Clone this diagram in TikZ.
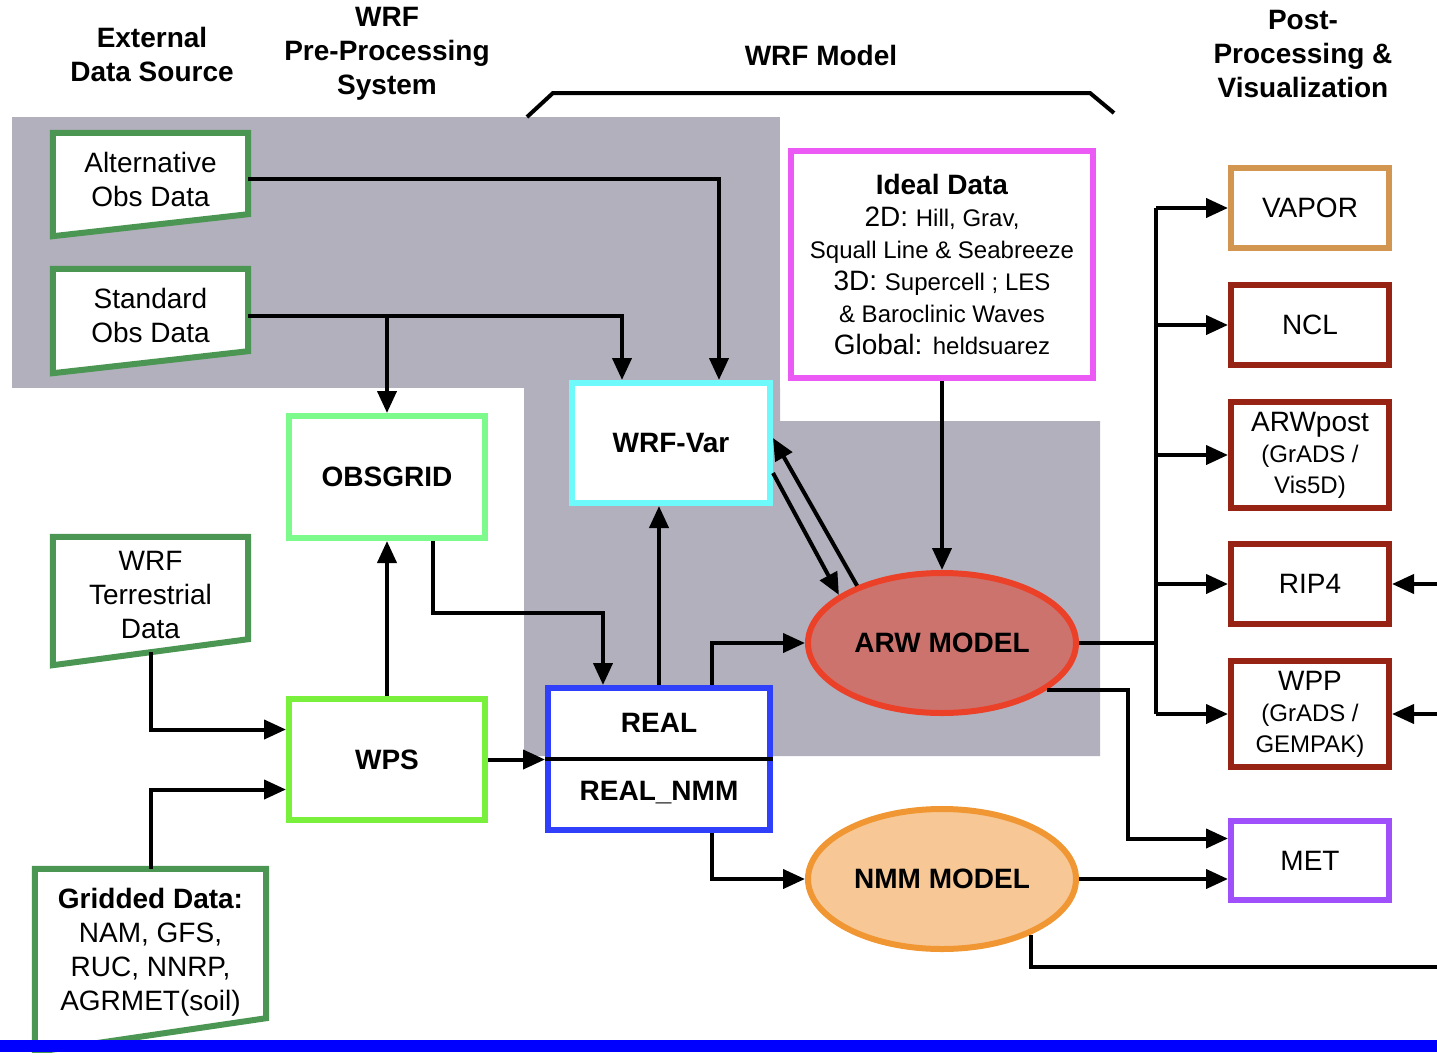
\documentclass[tikz,border=0pt]{standalone}
\usepackage{fontspec}
\setmainfont{Liberation Sans}
\usetikzlibrary{arrows.meta, positioning, shapes.geometric, backgrounds}

\definecolor{regiongray}{RGB}{178,176,189}
\definecolor{srcgreen}{RGB}{76,150,84}
\definecolor{obsgreen}{RGB}{125,250,140}
\definecolor{wpsgreen}{RGB}{120,240,60}
\definecolor{varcyan}{RGB}{110,250,250}
\definecolor{realblue}{RGB}{48,64,250}
\definecolor{idealpink}{RGB}{235,90,245}
\definecolor{arwfill}{RGB}{205,115,110}
\definecolor{arwline}{RGB}{235,65,40}
\definecolor{nmmfill}{RGB}{247,200,150}
\definecolor{nmmline}{RGB}{240,150,50}
\definecolor{vaporline}{RGB}{210,150,80}
\definecolor{postred}{RGB}{150,35,20}
\definecolor{metpurple}{RGB}{160,80,250}
\definecolor{barblue}{RGB}{0,0,255}

\newcommand{\smtxt}{\fontsize{24}{29}\selectfont}

\begin{document}
\begin{tikzpicture}[x=1pt, y=-1pt, >={Triangle[length=22pt,width=19pt]},
  line/.style={line width=4pt},
  conn/.style={line width=4pt, ->},
  hdr/.style={font=\bfseries\fontsize{28}{34}\selectfont, align=center},
  srcbox/.style={font=\fontsize{28}{34}\selectfont, align=center, inner sep=0pt,
    minimum width=#1},
  srcbox/.default=195pt,
  srcline/.style={draw=srcgreen, fill=white, line width=6pt},
  procbox/.style={draw=#1, fill=white, line width=6pt, inner sep=0pt,
    font=\bfseries\fontsize{28}{34}\selectfont, align=center},
  postbox/.style={draw=#1, fill=white, line width=6pt, inner sep=0pt,
    minimum width=158pt, minimum height=80pt,
    font=\fontsize{28}{31}\selectfont, align=center},
  model/.style 2 args={ellipse, draw=#1, fill=#2, line width=6pt, inner sep=0pt,
    minimum width=268pt, minimum height=140pt,
    font=\bfseries\fontsize{28}{34}\selectfont}]
  \useasboundingbox (0,0) rectangle (1437,1052);

  % Column headers
  \node[hdr] (hext) at (152,54) {External\\Data Source};
  \node[hdr] (hpre) at (387,54) {WRF\\Pre-Processing\\System};
  \node[hdr] (hwrf) at (821,55) {WRF Model};
  \node[hdr] (hpost) at (1303,54) {Post-\\Processing \&\\Visualization};
  \draw[line] (527,117) -- (553,93) -- (1090,93) -- (1114,113);

  % External data sources
  \node[srcbox, minimum height=92pt] (alt) at (150.5,179) {Alternative\\Obs Data};
  \node[srcbox, minimum height=93pt] (std) at (150.5,315.5) {Standard\\Obs Data};
  \node[srcbox, minimum height=115pt] (terr) at (150.5,594.5) {WRF\\Terrestrial\\Data};
  \node[srcbox=231pt, minimum height=166pt] (grid) at (150.5,952)
    {\textbf{Gridded Data:}\\NAM, GFS,\\RUC, NNRP,\\AGRMET(soil)};

  % Pre-processing and model
  \node[procbox=obsgreen, minimum width=196pt, minimum height=122pt] (obsgrid) at (387,477) {OBSGRID};
  \node[procbox=wpsgreen, minimum width=196pt, minimum height=121pt] (wps) at (387,759.5) {WPS};
  \node[procbox=varcyan, minimum width=198pt, minimum height=120pt] (wrfvar) at (671,443) {WRF-Var};
  \node[procbox=realblue, minimum width=222pt, minimum height=142pt] (real) at (659,759)
    {\raisebox{-3pt}{REAL}\\[34pt]\raisebox{-3pt}{REAL\_NMM}};
  \node[procbox=idealpink, minimum width=302pt, minimum height=227pt,
    font=\fontsize{28}{32}\selectfont] (ideal) at (942,264.5)
    {\textbf{Ideal Data}\\2D: {\smtxt Hill, Grav,}\\{\smtxt Squall Line \& Seabreeze}\\
     3D: {\smtxt Supercell ; LES}\\{\smtxt \& Baroclinic Waves}\\Global: {\smtxt heldsuarez}};
  \node[model={arwline}{arwfill}] (arw) at (942,643) {ARW MODEL};
  \node[model={nmmline}{nmmfill}] (nmm) at (942,879) {NMM MODEL};

  % Post-processing
  \node[postbox=vaporline] (vapor) at (1310,208) {VAPOR};
  \node[postbox=postred] (ncl) at (1310,325) {NCL};
  \node[postbox=postred, minimum height=106pt] (arwpost) at (1310,455)
    {ARWpost\\{\smtxt (GrADS /}\\{\smtxt Vis5D)}};
  \node[postbox=postred] (rip) at (1310,584) {RIP4};
  \node[postbox=postred, minimum height=106pt] (wpp) at (1310,714)
    {WPP\\{\smtxt (GrADS /}\\{\smtxt GEMPAK)}};
  \node[postbox=metpurple, minimum height=79pt] (met) at (1310,860.5) {MET};

  % Shaded regions and slanted source shapes
  \begin{scope}[on background layer]
    \fill[regiongray] (12,117) rectangle (780,388);
    \fill[regiongray] (524,388) -- (780,388) -- (780,421) -- (1100,421)
      -- (1100,756) -- (524,756) -- cycle;
    \foreach \n/\d in {alt/11, std/11, terr/13, grid/17}
      \draw[srcline] (\n.north west) -- (\n.north east) -- ([yshift=\d pt]\n.south east)
        -- ([yshift=-\d pt]\n.south west) -- cycle;
  \end{scope}

  % Connectors
  \draw[conn] (alt.east) -| ([xshift=48pt]wrfvar.north);
  \draw[conn] (std.east) -| ([xshift=-49pt]wrfvar.north);
  \draw[conn] (std.east -| obsgrid.north) -- (obsgrid.north);
  \draw[conn] (wps.north) -- (obsgrid.south);
  \draw[conn] ([xshift=46pt]obsgrid.south) -- ++(0,72) -| ([xshift=-56pt]real.north);
  \draw[conn] (terr.south) |- ([yshift=30pt]wps.west);
  \draw[conn] (grid.north) |- ([yshift=-30pt]wps.west);
  \draw[conn] (wps.east) -- (wps.east -| real.west);
  \draw[line] (real.west) -- (real.east);
  \draw[conn] (real.north) -- (real.north |- wrfvar.south);
  \draw[conn] ([xshift=53pt]real.north) |- (arw.west);
  \draw[conn] ([xshift=53pt]real.south) |- (nmm.west);
  \draw[conn] (arw.146) -- ([yshift=5pt]wrfvar.east);
  \draw[conn] ([yshift=-30pt]wrfvar.east) -- (arw.155);
  \draw[conn] (ideal.south) -- (arw.north);

  % ARW output bus
  \draw[line] (arw.east) -- ++(77,0) coordinate (bus);
  \draw[line] (bus |- vapor.west) -- (bus |- wpp.west);
  \foreach \n in {vapor, ncl, arwpost, rip, wpp}
    \draw[conn] (bus |- \n.west) -- (\n.west);
  \draw[conn] (arw.-24) -| ([xshift=-100pt,yshift=22pt]met.west) -- ([yshift=22pt]met.west);
  \draw[conn] (nmm.east) -- (nmm.east -| met.west);

  % NMM return line along the right edge
  \draw[line] (nmm.-32) |- (1438.5,967) coordinate (redge) -- (redge |- rip.east);
  \draw[conn] (redge |- rip.east) -- (rip.east);
  \draw[conn] (redge |- wpp.east) -- (wpp.east);

  % Bottom bar
  \fill[barblue] (0,1040) rectangle (1437,1052);
\end{tikzpicture}
\end{document}
